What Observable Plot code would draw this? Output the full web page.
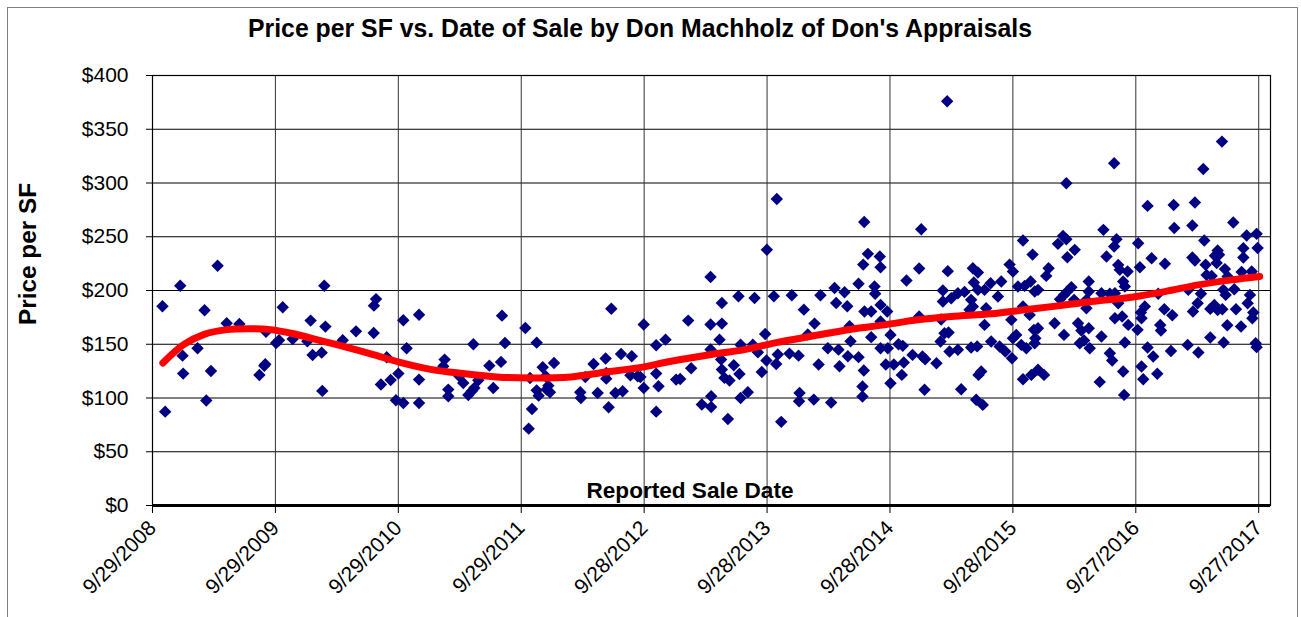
<!DOCTYPE html>
<html>
<head>
<meta charset="utf-8">
<script src="https://cdn.jsdelivr.net/npm/d3@7"></script>
<script src="https://cdn.jsdelivr.net/npm/@observablehq/plot@0.6"></script>
<style>
  html, body { margin: 0; padding: 0; background: #fff; }
  #wrap { position: relative; width: 1301px; height: 617px; overflow: hidden; }
  #border { position: absolute; left: 7px; top: 7px; width: 1291px; height: 612px; box-sizing: border-box; border: 1.5px solid #808080; }
  #chart { position: absolute; left: 0; top: 0; }
</style>
</head>
<body>
<div id="wrap"><div id="border"></div><div id="chart"></div></div>
<script>
// ---- Data (decimal year of sale, price per SF) ----
const saleYear = [
2008.824,2008.968,2009.272,2009.166,2009.346,2009.449,2009.666,2009.109,2008.987,2008.992,2009.218,2008.846,2009.180,2009.612,2009.652,2009.660,2009.748,2009.772,2009.802,
2009.883,2010.002,2010.029,2010.140,2010.149,2010.045,2010.119,2010.124,2010.290,2010.398,2010.542,2010.561,2010.544,2010.648,2010.601,2010.680,2010.743,2010.723,2010.783,2010.783,2010.810,2010.911,2010.911,2010.911,
2011.119,2011.108,2011.149,2011.149,2011.239,2011.271,2011.312,2011.339,2011.361,2011.353,2011.393,2011.483,2011.515,2011.578,2011.610,2011.586,2011.776,2011.814,2011.830,2011.803,2011.868,2011.868,2011.884,2011.917,2011.949,2011.963,2011.941,2012.009,2011.976,
2012.222,2012.227,2012.263,2012.330,2012.363,2012.428,2012.433,2012.433,2012.452,2012.474,2012.507,2012.553,2012.566,2012.640,2012.629,2012.688,2012.710,2012.737,2012.737,2012.838,2012.838,2012.857,2012.838,2012.914,2013.000,2013.033,2013.098,2013.122,2013.209,2013.280,2013.280,2013.280,2013.285,2013.285,
2013.372,2013.372,2013.353,2013.366,2013.372,2013.393,2013.434,2013.469,2013.515,2013.507,2013.524,2013.524,2013.583,2013.421,2013.624,2013.638,2013.665,2013.697,2013.724,2013.738,2013.735,2013.819,2013.795,2013.827,2013.814,2013.855,2013.922,2013.941,2013.996,2014.004,2014.000,2014.039,2014.071,2014.120,2014.126,2014.159,2014.174,2014.234,2014.261,2014.289,2014.302,2014.321,2014.329,2014.370,2014.392,2014.397,2014.411,2014.419,
2015.205,2014.530,2014.994,2014.560,2014.522,2014.657,2014.663,2014.484,2014.614,2014.619,2014.663,2014.717,2014.532,2014.587,2014.663,2014.587,2014.663,2014.722,2014.744,2014.484,2014.527,2014.706,2014.771,2014.809,2014.844,2014.852,2014.836,2014.923,2014.744,2014.516,2014.516,2015.004,2015.026,2015.118,2015.021,2014.874,2014.977,2014.977,2015.170,2015.210,2015.170,2015.238,2015.292,2015.346,2015.156,2015.183,2015.151,2015.216,2015.224,2015.292,2015.319,2015.414,2015.455,2015.422,2015.455,2015.400,2015.387,2015.414,2015.509,2015.558,2015.522,2015.509,2015.563,2015.400,2015.449,2015.482,2015.460,2015.441,2015.495,
2016.562,2016.174,2016.475,2016.581,2016.562,2016.500,2016.147,2016.174,2016.106,2016.242,2016.182,2015.822,2015.900,2015.713,2015.740,2016.030,2016.011,2015.645,2015.781,2015.835,2015.884,2015.917,2015.944,2015.618,2016.215,2016.182,2016.155,2016.123,2016.237,2016.356,2016.356,2016.337,2016.337,2016.459,2016.527,2016.595,2016.608,2016.635,2016.671,2016.649,2016.568,2016.595,2016.568,2016.627,2016.676,2015.822,2015.876,2015.727,2016.079,2016.155,2015.911,2015.944,2016.269,2016.296,2016.356,2015.740,2015.767,2015.632,2015.678,2015.732,2015.808,2015.849,2015.917,2015.922,2016.283,2016.318,2016.364,2016.459,2016.527,2016.546,2016.635,2016.649,2015.822,2015.890,2015.944,2015.993,2016.445,2016.643,
2017.438,2017.286,2016.833,2017.045,2017.218,2017.050,2017.197,2017.530,2016.757,2017.294,2017.639,2017.720,2017.728,2017.612,2017.612,2016.866,2016.974,2017.197,2017.218,2017.403,2017.414,2017.381,2017.395,2017.305,2017.462,2017.484,2017.313,2017.354,2017.598,2017.680,2016.771,2017.164,2017.267,2017.449,2017.468,2017.538,2017.666,2017.647,2016.920,2016.811,2016.779,2016.784,2016.969,2017.034,2017.202,2017.240,2017.343,2017.376,2017.403,2017.441,2017.552,2017.693,2017.685,2016.936,2016.942,2016.752,2017.481,2017.593,2017.343,2017.452,2017.159,2017.246,2017.023,2017.712,2017.720,2016.833,2016.879,2016.784,2016.798,2016.912
];
const pricePerSF = [
185.3,204.5,223.1,181.6,169.5,168.9,161.7,146.2,139.4,122.7,125.2,87.3,97.6,121.4,130.0,131.5,151.2,153.7,184.4,
154.9,152.8,172.0,204.5,166.4,140.0,142.2,106.6,153.7,162.0,160.5,192.0,185.9,137.9,112.5,116.8,122.7,97.9,95.4,172.3,146.2,177.5,117.1,95.4,
135.7,129.5,107.8,101.6,120.2,114.0,102.8,106.2,109.3,150.0,116.5,130.1,109.3,133.6,151.2,176.6,165.1,118.6,89.8,71.5,151.5,107.1,102.2,128.6,107.8,111.5,120.2,132.6,105.3,
105.3,100.0,119.6,131.7,104.7,136.7,123.3,118.0,91.4,183.1,104.7,141.0,106.2,138.8,121.1,120.2,119.6,109.3,168.3,149.0,122.7,110.9,87.3,154.3,117.1,117.7,172.0,127.6,93.9,212.6,168.3,145.1,101.6,91.7,
188.4,169.2,154.3,135.7,126.4,118.7,116.2,130.4,122.3,194.6,149.6,100.0,105.3,80.5,149.6,193.0,142.5,124.2,159.5,237.9,134.8,285.1,194.6,140.4,131.7,77.8,141.3,195.5,139.4,104.7,97.0,182.2,159.0,98.5,169.2,131.1,195.5,146.2,95.7,202.3,188.4,145.0,129.5,198.3,185.3,138.8,166.7,152.8,
376.0,263.8,257.0,234.1,224.1,231.6,221.7,206.2,203.7,196.9,186.6,180.4,180.4,180.4,171.1,156.6,146.3,146.3,158.7,138.0,125.6,131.1,131.1,150.0,148.5,133.0,121.5,140.1,113.8,110.7,101.4,138.6,136.1,132.4,107.6,209.3,220.4,175.8,200.0,218.0,189.8,192.8,197.5,198.7,173.0,160.3,152.5,160.9,143.2,144.8,108.2,220.7,216.7,207.4,200.6,191.3,182.0,185.1,200.6,206.8,183.5,168.0,152.5,147.0,148.0,124.6,121.5,98.3,93.6,
318.4,299.8,256.4,247.7,240.9,231.6,250.8,247.7,243.4,237.8,231.0,246.5,233.4,224.1,217.6,220.7,213.6,208.3,203.7,204.3,208.3,199.0,200.6,194.4,203.1,199.0,195.9,191.9,191.3,208.3,199.0,191.3,183.5,197.5,196.9,223.8,219.2,208.3,217.6,203.7,197.5,188.2,174.2,175.8,168.0,185.1,177.3,172.7,169.6,158.7,163.4,164.9,169.6,162.8,164.9,155.6,158.7,147.9,143.2,137.0,149.4,146.3,151.0,155.6,151.0,153.5,146.3,157.2,141.7,134.9,124.6,151.6,117.5,121.5,126.2,121.5,115.0,102.9,
338.5,313.1,278.7,279.6,281.8,258.2,260.4,263.2,244.0,246.5,251.1,252.7,239.6,239.3,230.7,230.0,224.8,230.7,227.9,237.2,233.3,232.4,225.5,224.0,219.9,213.0,214.5,213.6,217.3,217.6,221.7,200.6,196.9,200.6,195.9,201.2,195.9,188.2,196.9,185.1,179.5,174.2,182.6,177.0,180.4,188.2,182.9,186.6,181.9,182.6,182.6,179.5,174.2,168.0,162.8,163.4,167.7,166.5,156.2,151.6,149.4,142.3,143.8,151.0,147.3,147.0,138.6,129.3,117.5,122.5
];
// Trend line
const trendYear = [2008.827,2008.995,2009.158,2009.348,2009.538,2009.701,2009.880,2010.132,2010.295,2010.539,2010.756,2011.016,2011.271,2011.542,2011.814,2012.146,2012.417,2012.688,2012.960,2013.285,2013.556,2013.827,2014.099,2014.424,2014.695,2014.966,2015.238,2015.564,2015.835,2016.106,2016.378,2016.703,2016.974,2017.245,2017.517,2017.745];
const trendPrice = [132.5,149.6,159.0,163.6,164.5,163.6,160.0,152.7,148.0,140.4,133.2,126.4,122.7,119.6,118.6,119.6,123.9,128.0,134.2,140.4,145.0,151.8,157.4,164.0,168.0,172.7,175.8,178.3,182.0,185.7,189.7,193.8,199.0,205.2,209.9,213.0];
// Axis ticks
const xTickDates = ["2008-09-29","2009-09-29","2010-09-29","2011-09-29","2012-09-28","2013-09-28","2014-09-28","2015-09-28","2016-09-27","2017-09-27"];
const xTickLabels = ["9/29/2008","9/29/2009","9/29/2010","9/29/2011","9/28/2012","9/28/2013","9/28/2014","9/28/2015","9/27/2016","9/27/2017"];
const yTickValues = [0,50,100,150,200,250,300,350,400];
const yTickLabels = ["$0","$50","$100","$150","$200","$250","$300","$350","$400"];
const titleText = "Price per SF vs. Date of Sale by Don Machholz of Don's Appraisals";
const yLabelText = "Price per SF";
const xLabelText = "Reported Sale Date";

// ---- Build tables ----
function yearToDate(t) {
  const y = Math.floor(t);
  const a = Date.UTC(y, 0, 1), b = Date.UTC(y + 1, 0, 1);
  return new Date(a + (t - y) * (b - a));
}
const points = saleYear.map((t, i) => ({date: yearToDate(t), price: pricePerSF[i]}));
const trend = trendYear.map((t, i) => ({date: yearToDate(t), price: trendPrice[i]}));
const xTicks = xTickDates.map(d => new Date(d));
const xLabelMap = new Map(xTicks.map((d, i) => [+d, xTickLabels[i]]));
const yLabelMap = new Map(yTickValues.map((v, i) => [v, yTickLabels[i]]));

const font = "'Liberation Sans', Arial, sans-serif";
const chart = Plot.plot({
  width: 1301,
  height: 617,
  marginLeft: 152,
  marginRight: 31,
  marginTop: 75,
  marginBottom: 112,
  style: {fontFamily: font, fontSize: "21px", color: "#000", background: "transparent", overflow: "visible"},
  x: {type: "utc", domain: [new Date("2008-09-29"), new Date("2017-11-01")]},
  y: {domain: [0, 400]},
  marks: [
    Plot.gridY(yTickValues, {stroke: "#000", strokeOpacity: 1, strokeWidth: 1}),
    Plot.gridX(xTicks, {stroke: "#333", strokeOpacity: 1, strokeWidth: 1}),
    Plot.frame({stroke: "#000", strokeWidth: 1.2}),
    Plot.ruleY([0], {stroke: "#000", strokeWidth: 3}),
    Plot.axisY(yTickValues, {tickFormat: v => yLabelMap.get(v), tickSize: 6, tickPadding: 18, label: null, fontSize: 21}),
    Plot.axisX(xTicks, {tickFormat: d => xLabelMap.get(+d), tickRotate: -45, tickSize: 8, tickPadding: 11, label: null, fontSize: 21}),
    Plot.dot(points, {x: "date", y: "price", symbol: "diamond2", r: 5.6, fill: "#000080", stroke: "none"}),
    Plot.line(trend, {x: "date", y: "price", stroke: "#ff0000", strokeWidth: 7, curve: "catmull-rom", strokeLinecap: "round"})
  ]
});
document.getElementById("chart").appendChild(chart);

const svg = d3.select(chart);
svg.append("text")
  .attr("x", 640).attr("y", 37)
  .attr("text-anchor", "middle")
  .attr("textLength", 784).attr("lengthAdjust", "spacingAndGlyphs")
  .style("font-family", font).style("font-weight", "bold").style("font-size", "26px").attr("fill", "#000")
  .text(titleText);
svg.append("text")
  .attr("transform", "translate(36,254) rotate(-90)")
  .attr("text-anchor", "middle")
  .attr("textLength", 142).attr("lengthAdjust", "spacingAndGlyphs")
  .style("font-family", font).style("font-weight", "bold").style("font-size", "23px").attr("fill", "#000")
  .text(yLabelText);
svg.append("text")
  .attr("x", 690).attr("y", 498)
  .attr("text-anchor", "middle")
  .attr("textLength", 207).attr("lengthAdjust", "spacingAndGlyphs")
  .style("font-family", font).style("font-weight", "bold").style("font-size", "22px").attr("fill", "#000")
  .text(xLabelText);
</script>
</body>
</html>
